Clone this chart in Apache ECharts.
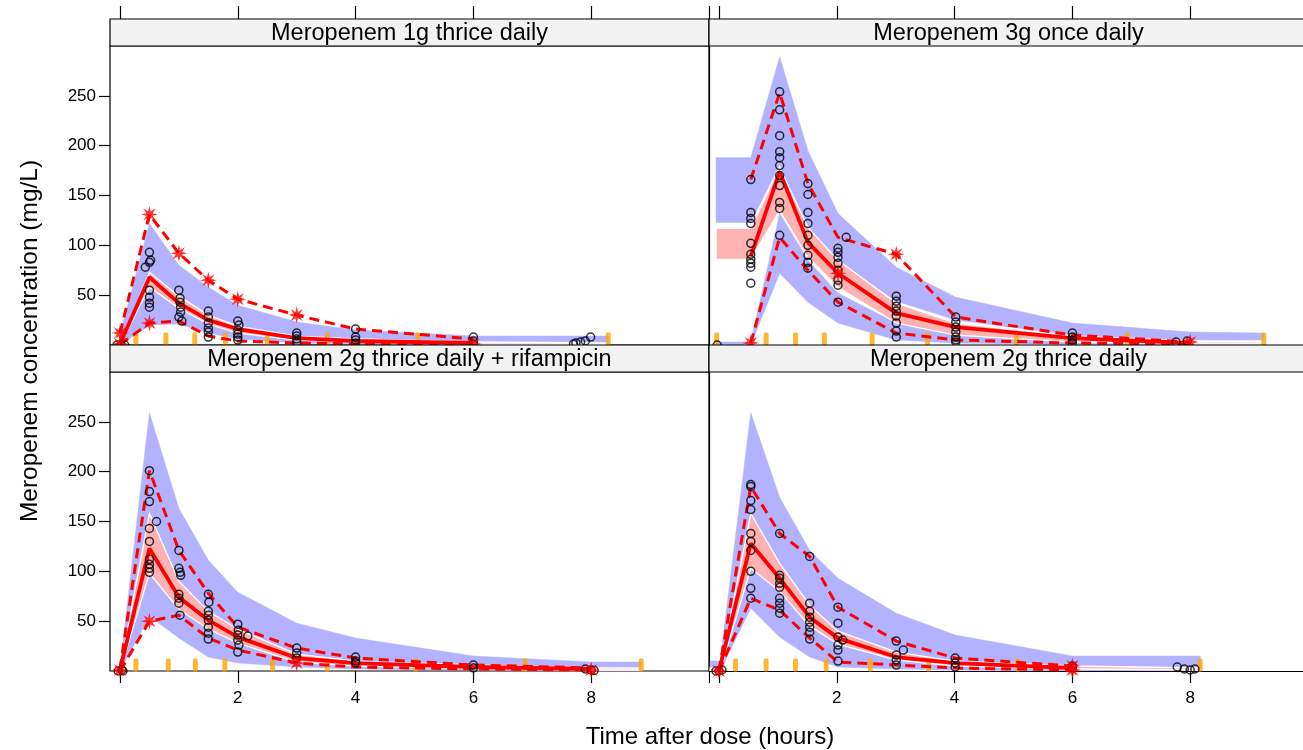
<!DOCTYPE html>
<html><head><meta charset="utf-8">
<script src="https://cdn.jsdelivr.net/npm/echarts@6.0.0/dist/echarts.min.js"></script>
<style>html,body{margin:0;padding:0;background:#fff}#c{width:1303px;height:750px}</style>
</head><body><div id="c"></div>
<script>
// ---------------- DATA ----------------
const panelTitles = ["Meropenem 1g thrice daily", "Meropenem 3g once daily",
  "Meropenem 2g thrice daily + rifampicin", "Meropenem 2g thrice daily"];
const xTicks = [0, 2, 4, 6, 8, 10];
const xTickLabels = [2, 4, 6, 8];
const yTicks = [50, 100, 150, 200, 250];

// Panel A : 1g thrice daily
const bandX_A = [0, 0.5, 1, 1.5, 2, 3, 4, 6, 8.29];
const ci95lo_A = [1, 40, 28, 18, 11, 5, 3, 1.5, 1.5];
const ci95hi_A = [10, 122, 80, 58, 40, 23, 15, 9, 9];
const ci5lo_A = [0, 20, 21, 12, 6, 2, 1, 0, 0];
const ci5hi_A = [2, 45, 33, 22, 14, 7, 4, 2, 2];
const medlo_A = [0, 58, 37, 21, 12, 5, 3, 1, 0.5];
const medhi_A = [1, 73, 49, 30, 19, 9, 6, 3, 2];
const lineX_A = [0, 0.5, 1, 1.5, 2, 3, 4, 6];
const p95_A = [12, 131, 92, 65, 46, 30, 16, 6];
const p50_A = [1, 68, 42, 25, 16, 7, 4, 2];
const p5_A = [0.5, 22, 24, 9, 4, 2, 1, 0.5];
const stars_A = [[0, 12], [0.5, 131], [1, 92], [1.5, 65], [2, 46], [3, 30], [0, 1], [0.5, 22], [6, 1]];
const obs_A = [[-0.05, 0], [0.02, 0], [0.08, 0],
  [0.5, 93], [0.52, 85], [0.5, 83], [0.43, 78], [0.5, 55], [0.5, 48], [0.5, 42], [0.5, 38],
  [1.0, 55], [1.02, 47], [1.02, 43], [1.03, 38], [1.03, 33], [1.0, 28], [1.05, 24],
  [1.5, 34], [1.5, 28], [1.5, 22], [1.5, 17], [1.5, 13], [1.5, 8],
  [2, 24], [2.02, 20], [2, 15], [2, 11], [2, 8], [2, 5],
  [3, 12], [3, 9], [3, 6], [3, 3],
  [4, 16], [4, 8], [4, 5], [4, 2],
  [6, 8], [6, 4], [6, 1],
  [7.7, 1], [7.74, 2], [7.82, 3], [7.9, 4], [7.99, 8]];
const bins_A = [0.27, 0.78, 1.27, 1.79, 2.5, 3.52, 5.06, 8.29];

// Panel B : 3g once daily
const bandX_B = [-0.05, 0.54, 1.03, 1.51, 2.02, 3.01, 4.02, 6, 8, 9.25];
const ci95lo_B = [123, 123, 181, 115, 82, 44, 25, 10, 5, 5];
const ci95hi_B = [188, 188, 289, 195, 132, 78, 48, 22, 13, 12];
const ci5lo_B = [0, 0, 72, 43, 22, 5, 2, 0.5, 0, 0];
const ci5hi_B = [3, 3, 132, 85, 52, 22, 10, 4, 2, 2];
const medlo_B = [86, 86, 135, 88, 58, 22, 10, 3, 1, 1];
const medhi_B = [117, 117, 178, 118, 85, 42, 22, 9, 3, 3];
const lineX_B = [0.54, 1.03, 1.51, 2.02, 3.01, 4.02, 6, 8];
const p95_B = [166, 253, 162, 108, 91, 28, 10, 3];
const p50_B = [89, 174, 103, 72, 32, 18, 7, 2];
const p5_B = [2, 108, 75, 43, 12, 5, 2, 1];
const stars_B = [[0.54, 2], [2.02, 72], [3.01, 91], [8, 3]];
const obs_B = [[-0.03, 0],
  [0.54, 166], [0.54, 133], [0.54, 127], [0.54, 122], [0.54, 102], [0.54, 91], [0.54, 86], [0.54, 82], [0.54, 78], [0.54, 62],
  [1.03, 254], [1.03, 236], [1.03, 210], [1.03, 194], [1.03, 188], [1.03, 180], [1.03, 170], [1.03, 160], [1.03, 143], [1.03, 137], [1.03, 110],
  [1.51, 162], [1.51, 151], [1.51, 133], [1.51, 122], [1.51, 110], [1.51, 100], [1.51, 90], [1.51, 83], [1.51, 77],
  [2.02, 97], [2.02, 93], [2.02, 88], [2.02, 82], [2.02, 75], [2.02, 65], [2.02, 60], [2.02, 43], [2.16, 108],
  [3.01, 49], [3.01, 44], [3.01, 39], [3.01, 34], [3.01, 29], [3.01, 22], [3.01, 14], [3.01, 8],
  [4.02, 28], [4.02, 23], [4.02, 18], [4.02, 13], [4.02, 8], [4.02, 5], [4.02, 3],
  [6, 12], [6, 8], [6, 5], [6, 2],
  [7.76, 3], [7.95, 4]];
const bins_B = [-0.04, 0.8, 1.3, 1.79, 2.6, 3.54, 5.05, 6.93, 9.25];

// Panel C : 2g thrice daily + rifampicin
const bandX_C = [0, 0.5, 1, 1.5, 2, 3, 4, 6, 8, 8.85];
const ci95lo_C = [1, 110, 60, 38, 25, 12, 7, 3, 1.5, 1.5];
const ci95hi_C = [4, 259, 163, 111, 79, 48, 33, 15, 9, 9];
const ci5lo_C = [0, 55, 33, 14, 8, 4, 2, 1, 0, 0];
const ci5hi_C = [2, 115, 65, 40, 28, 14, 8, 4, 2, 2];
const medlo_C = [0, 98, 62, 42, 28, 9, 5, 2.5, 1, 1];
const medhi_C = [2, 158, 90, 60, 42, 17, 10, 6, 3, 3];
const lineX_C = [0, 0.5, 1, 1.5, 2, 3, 4, 6, 8];
const p95_C = [2, 201, 121, 78, 44, 23, 13, 6, 3];
const p50_C = [1, 123, 74, 51, 34, 13, 8, 4, 2];
const p5_C = [0, 50, 56, 33, 21, 8, 4, 2, 1];
const stars_C = [[0, 1], [0.5, 50], [3, 8], [8, 1]];
const obs_C = [[-0.03, 0], [0.03, 1], [0.05, 0],
  [0.5, 201], [0.5, 180], [0.5, 170], [0.62, 150], [0.5, 143], [0.5, 130], [0.5, 112], [0.5, 107], [0.5, 103], [0.5, 99],
  [1.0, 121], [1.0, 103], [1.02, 99], [1.03, 96], [1.0, 77], [1.0, 73], [1.0, 68], [1.02, 56],
  [1.5, 77], [1.51, 69], [1.5, 60], [1.5, 56], [1.5, 51], [1.5, 44], [1.5, 38], [1.5, 32],
  [2.0, 47], [2.01, 41], [2.0, 36], [2.17, 35], [2.0, 31], [2.02, 26], [2.0, 19],
  [3, 23], [3, 18], [3, 13],
  [4, 14], [4, 10], [4, 8],
  [6, 6], [6, 3],
  [7.9, 2], [8.0, 1], [8.05, 0.5]];
const bins_C = [0.27, 0.82, 1.28, 1.78, 2.59, 3.52, 5.02, 6.88, 8.85];

// Panel D : 2g thrice daily
const bandX_D = [-0.15, 0.02, 0.54, 1.03, 1.54, 2.02, 3.01, 4.01, 6, 8.17];
const ci95lo_D = [0, 0, 118, 70, 45, 28, 14, 8, 3, 3];
const ci95hi_D = [10, 10, 259, 174, 121, 93, 58, 36, 15, 15];
const ci5lo_D = [0, 0, 63, 34, 14, 4, 2, 1, 0, 0];
const ci5hi_D = [3, 3, 120, 72, 46, 29, 15, 8, 3, 3];
const medlo_D = [0, 0, 103, 80, 45, 27, 11, 5, 2, 1];
const medhi_D = [3, 3, 158, 108, 66, 40, 19, 10, 5, 3];
const lineX_D = [0, 0.54, 1.03, 1.54, 2.02, 3.01, 4.01, 6];
const p95_D = [0, 185, 138, 115, 64, 30, 13, 5];
const p50_D = [0, 128, 93, 54, 33, 14, 8, 3];
const p5_D = [0, 73, 61, 33, 9, 6, 3, 1];
const stars_D = [[0, 0], [6, 5], [6, 1]];
const obs_D = [[-0.05, 0], [0, 0], [0.05, 1],
  [0.54, 187], [0.54, 185], [0.54, 171], [0.54, 162], [0.54, 138], [0.54, 130], [0.54, 121], [0.54, 100], [0.54, 83], [0.54, 73],
  [1.03, 138], [1.03, 96], [1.03, 93], [1.03, 88], [1.03, 84], [1.03, 73], [1.03, 68], [1.03, 63], [1.03, 58],
  [1.54, 115], [1.54, 68], [1.54, 60], [1.54, 54], [1.54, 49], [1.54, 44], [1.54, 39], [1.54, 32],
  [2.02, 64], [2.02, 48], [2.02, 34], [2.1, 31], [2.02, 26], [2.02, 21], [2.02, 10],
  [3.01, 30], [3.13, 21], [3.01, 16], [3.01, 11], [3.01, 6],
  [4.01, 13], [4.01, 8], [4.01, 4],
  [6, 5], [6, 3],
  [7.78, 4], [7.9, 2], [8.0, 1], [8.08, 2]];
const bins_D = [0.28, 0.8, 1.3, 1.82, 2.57, 3.56, 5.07, 8.17];

// ---------------- LAYOUT / STYLE ----------------
const FONT = "'Liberation Sans', Arial, sans-serif";
const BLUE = '#B2B2FF', PINK = '#FFB2B2', RED = '#FF0000', ORANGE = '#FFA500';
const PXU = 599 / 10.1695;             // pixels per hour
const XMIN = -0.1695;
const RIGHT_W = 594;                   // right column runs off the canvas edge
const panelsPos = [
  {left: 110, top: 46, width: 599, right: false}, {left: 709, top: 46, width: RIGHT_W, right: true},
  {left: 110, top: 372, width: 599, right: false}, {left: 709, top: 372, width: RIGHT_W, right: true}];
const GH = 299, STRIP = 27, STRIP_W = 599;

function starPath(n, rOut, rIn) {
  let d = '';
  for (let k = 0; k < 2 * n; k++) {
    const r = k % 2 ? rIn : rOut;
    const a = Math.PI * k / n - Math.PI / 2;
    d += (k ? 'L' : 'M') + (r * Math.cos(a)).toFixed(3) + ' ' + (r * Math.sin(a)).toFixed(3) + ' ';
  }
  return 'path://' + d + 'Z';
}
const STAR = starPath(8, 1, 0.4);

const panels = [
  {xs: bandX_A, c95: [ci95lo_A, ci95hi_A], c5: [ci5lo_A, ci5hi_A], cm: [medlo_A, medhi_A], lx: lineX_A, p95: p95_A, p50: p50_A, p5: p5_A, stars: stars_A, obs: obs_A, bins: bins_A},
  {xs: bandX_B, c95: [ci95lo_B, ci95hi_B], c5: [ci5lo_B, ci5hi_B], cm: [medlo_B, medhi_B], lx: lineX_B, p95: p95_B, p50: p50_B, p5: p5_B, stars: stars_B, obs: obs_B, bins: bins_B},
  {xs: bandX_C, c95: [ci95lo_C, ci95hi_C], c5: [ci5lo_C, ci5hi_C], cm: [medlo_C, medhi_C], lx: lineX_C, p95: p95_C, p50: p50_C, p5: p5_C, stars: stars_C, obs: obs_C, bins: bins_C},
  {xs: bandX_D, c95: [ci95lo_D, ci95hi_D], c5: [ci5lo_D, ci5hi_D], cm: [medlo_D, medhi_D], lx: lineX_D, p95: p95_D, p50: p50_D, p5: p5_D, stars: stars_D, obs: obs_D, bins: bins_D}
];

function bandSeries(gi, xs, lo, hi, fill, stroke, z) {
  return {
    type: 'custom', xAxisIndex: gi, yAxisIndex: gi, z: z, silent: true, clip: true,
    data: xs.map((x, i) => [x, lo[i], hi[i]]),
    encode: {x: 0, y: [1, 2]},
    renderItem: function (params, api) {
      if (params.dataIndex !== 0) return null;
      const top = xs.map((x, i) => api.coord([x, hi[i]]));
      const bot = xs.map((x, i) => api.coord([x, lo[i]])).reverse();
      return {type: 'polygon', shape: {points: top.concat(bot)},
        style: {fill: fill, stroke: stroke || fill, lineWidth: stroke ? 1.3 : 0.5}};
    }
  };
}
function lineSeries(gi, xs, ys, dashed) {
  return {
    type: 'line', xAxisIndex: gi, yAxisIndex: gi, z: 5, silent: true,
    data: xs.map((x, i) => [x, ys[i]]), showSymbol: false, symbol: 'none', clip: true,
    lineStyle: {color: RED, width: dashed ? 3 : 3.8, type: dashed ? [10, 6] : 'solid'}
  };
}

const series = [];
panels.forEach((p, gi) => {
  series.push(bandSeries(gi, p.xs, p.c95[0], p.c95[1], BLUE, null, 1));
  series.push(bandSeries(gi, p.xs, p.c5[0], p.c5[1], BLUE, null, 1));
  series.push(bandSeries(gi, p.xs, p.cm[0], p.cm[1], PINK, '#FFFFFF', 2));
  series.push({type: 'scatter', xAxisIndex: gi, yAxisIndex: gi, z: 3, silent: true,
    data: p.bins.map(x => [x, 0]), symbol: 'roundRect', symbolSize: [5, 13], symbolOffset: [0, -6],
    itemStyle: {color: ORANGE}});
  series.push(lineSeries(gi, p.lx, p.p95, true));
  series.push(lineSeries(gi, p.lx, p.p5, true));
  series.push(lineSeries(gi, p.lx, p.p50, false));
  series.push({type: 'scatter', xAxisIndex: gi, yAxisIndex: gi, z: 6, silent: true,
    data: p.obs, symbol: 'circle', symbolSize: 8,
    itemStyle: {color: 'rgba(0,0,0,0)', borderColor: '#000', borderWidth: 1.5}});
  series.push({type: 'scatter', xAxisIndex: gi, yAxisIndex: gi, z: 7, silent: true,
    data: p.stars, symbol: STAR, symbolSize: 17, itemStyle: {color: RED}});
});

// main plotting grids (0-3) + thin grids (4,5) that only carry the top tick marks
const grids = panelsPos.map(g => ({left: g.left, top: g.top, width: g.width, height: GH,
  show: !g.right, borderColor: '#000', borderWidth: 1.2, backgroundColor: 'transparent'}));
grids.push({left: 110, top: 6, width: 599, height: 13, show: false});
grids.push({left: 709, top: 6, width: RIGHT_W, height: 13, show: false});

const AXLINE = {show: true, onZero: false, lineStyle: {color: '#000', width: 1.2}};
const xAxes = panelsPos.map((g, gi) => {
  const isBottom = gi >= 2;
  return {
    type: 'value', gridIndex: gi, min: XMIN, max: XMIN + g.width / PXU,
    position: 'bottom',
    axisLine: g.right ? AXLINE : {show: false, onZero: false}, splitLine: {show: false},
    axisTick: {show: isBottom, length: 12, customValues: xTicks,
      lineStyle: {color: '#000', width: 1.2}},
    axisLabel: {show: isBottom, customValues: xTickLabels, margin: 19,
      fontFamily: FONT, fontSize: 17, color: '#000'}
  };
});
[4, 5].forEach((gi, k) => {
  const w = k === 0 ? 599 : RIGHT_W;
  xAxes.push({type: 'value', gridIndex: gi, min: XMIN, max: XMIN + w / PXU, position: 'bottom',
    axisLine: {show: false, onZero: false}, splitLine: {show: false}, axisLabel: {show: false},
    axisTick: {show: true, inside: true, length: 13, customValues: xTicks,
      lineStyle: {color: '#000', width: 1.2}}});
});
const yAxes = panelsPos.map((g, gi) => {
  const isLeft = !g.right;
  return {
    type: 'value', gridIndex: gi, min: 0, max: 300, position: 'left',
    axisLine: g.right ? AXLINE : {show: false, onZero: false}, splitLine: {show: false},
    axisTick: {show: isLeft, length: 11, customValues: yTicks, lineStyle: {color: '#000', width: 1.2}},
    axisLabel: {show: isLeft, customValues: yTicks, margin: 14,
      fontFamily: FONT, fontSize: 17, color: '#000'}
  };
});
[4, 5].forEach(gi => yAxes.push({type: 'value', gridIndex: gi, min: 0, max: 1, show: false}));

const graphics = [];
panelsPos.forEach((g, gi) => {
  graphics.push({type: 'rect', z: 10,
    shape: {x: g.left, y: g.top - STRIP, width: g.right ? 640 : g.width, height: STRIP},
    style: {fill: '#F2F2F2', stroke: '#000', lineWidth: 1.2}});
  graphics.push({type: 'text', z: 11, x: g.left + STRIP_W / 2, y: g.top - STRIP / 2 + 1,
    style: {text: panelTitles[gi], fontFamily: FONT, fontSize: 23.5, fill: '#000',
      align: 'center', verticalAlign: 'middle'}});
});
graphics.push({type: 'text', z: 11, x: 30, y: 341, rotation: Math.PI / 2,
  style: {text: 'Meropenem concentration (mg/L)', fontFamily: FONT, fontSize: 24.5, fill: '#000',
    align: 'center', verticalAlign: 'middle'}});
graphics.push({type: 'text', z: 11, x: 710, y: 737,
  style: {text: 'Time after dose (hours)', fontFamily: FONT, fontSize: 24, fill: '#000',
    align: 'center', verticalAlign: 'middle'}});

const chart = echarts.init(document.getElementById('c'), null, {renderer: 'canvas'});
chart.setOption({
  animation: false,
  backgroundColor: '#fff',
  grid: grids, xAxis: xAxes, yAxis: yAxes,
  series: series, graphic: graphics
});
</script></body></html>
